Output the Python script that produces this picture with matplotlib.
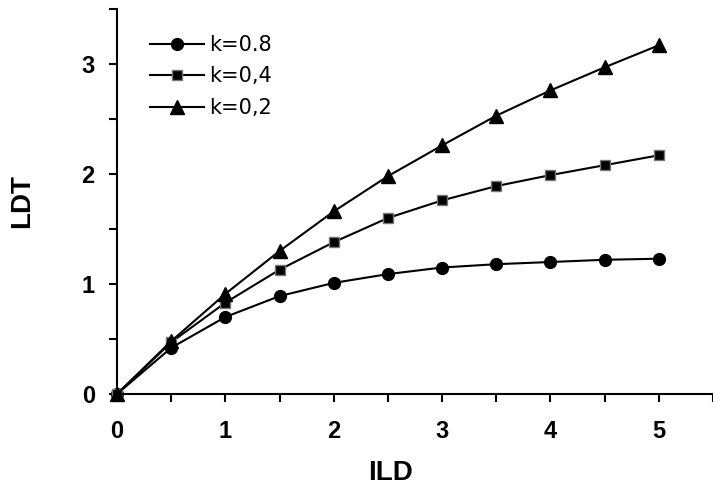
import matplotlib
matplotlib.use("Agg")
import matplotlib.pyplot as plt
import numpy as np

plt.rcParams['font.family'] = ['Liberation Sans', 'DejaVu Sans']

# ILD values where the markers sit
ild = [0, 0.5, 1, 1.5, 2, 2.5, 3, 3.5, 4, 4.5, 5]

# LDT
ldt_k08 = [0, 0.42, 0.70, 0.89, 1.01, 1.09, 1.15, 1.18, 1.20, 1.22, 1.23]
ldt_k04 = [0, 0.47, 0.83, 1.13, 1.38, 1.60, 1.76, 1.89, 1.99, 2.08, 2.17]
ldt_k02 = [0, 0.48, 0.91, 1.30, 1.66, 1.98, 2.26, 2.53, 2.76, 2.97, 3.17]

labels = ['k=0.8', 'k=0,4', 'k=0,2']

fig = plt.figure(figsize=(7.13, 4.95), dpi=100)
ax = fig.add_axes([117/713, 1 - 394/495, 1 - 117/713, 385/495])

ax.plot(ild, ldt_k08, color='black', lw=1.5, marker='o', ms=8.5, clip_on=False, label=labels[0])
ax.plot(ild, ldt_k04, color='black', lw=1.5, marker='s', ms=7.5, mfc='black',
        mec='#777777', mew=1.0, clip_on=False, label=labels[1])
ax.plot(ild, ldt_k02, color='black', lw=1.5, marker='^', ms=9.5, clip_on=False, label=labels[2])

ax.set_xlim(0, 596/110)
ax.set_ylim(0, 3.5)

ax.spines['top'].set_visible(False)
ax.spines['right'].set_visible(False)
for s in ['left', 'bottom']:
    ax.spines[s].set_linewidth(1.5)

ax.set_xticks(np.arange(0, 5.6, 0.5))
ax.set_xticklabels(['0', '', '1', '', '2', '', '3', '', '4', '', '5', ''])
ax.set_yticks(np.arange(0, 3.6, 0.5))
ax.set_yticklabels(['0', '', '1', '', '2', '', '3', ''])
ax.tick_params(axis='both', direction='out', length=6, width=1.5, labelsize=17)
ax.tick_params(axis='x', pad=13)
ax.tick_params(axis='y', pad=10)
for t in ax.get_xticklabels() + ax.get_yticklabels():
    t.set_fontweight('bold')

fig.text(390/713, 1 - 473/495, 'ILD', ha='center', va='center', fontsize=20, fontweight='bold')
fig.text(22/713, 1 - 201/495, 'LDT', ha='center', va='center', rotation=90,
         fontsize=20, fontweight='bold')

leg = ax.legend(loc='upper left', bbox_to_anchor=(150/713, 1 - 35/495),
                bbox_transform=fig.transFigure, frameon=False,
                prop={'family': 'DejaVu Sans', 'size': 15},
                borderpad=0, borderaxespad=0,
                handlelength=2.6, handletextpad=0.25, labelspacing=0.55)

fig.savefig('out.png', dpi=100)
